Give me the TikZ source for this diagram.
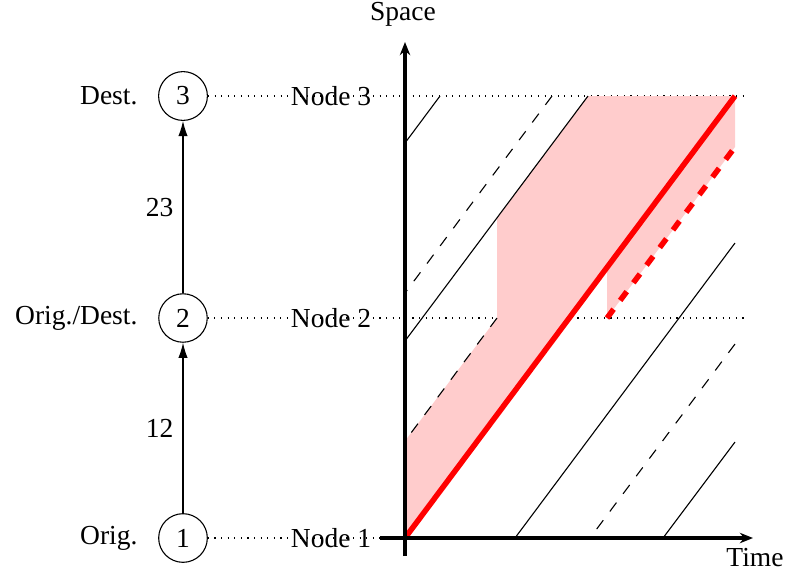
\documentclass[tikz,border=0pt]{standalone}
\usepackage{fontspec}
\setmainfont{Liberation Serif}
\usetikzlibrary{arrows.meta}
\begin{document}
\begin{tikzpicture}[x={(0.3636pt,0pt)},y={(0pt,-0.3636pt)},
  vert/.style={circle,draw,thin,inner sep=3.333pt},
  side/.style={anchor=east,inner sep=0pt},
  axis/.style={line width=1.2pt,-{Stealth[length=4.8pt,width=3.8pt]}},
  link/.style={thin,-{Latex[length=5.5pt,width=3.4pt]}},
  traj/.style={thin},
  trajd/.style={thin,dash pattern=on 4pt off 4pt},
  veh/.style={red,line width=2pt},
  vehd/.style={red,line width=2pt,dash pattern=on 4pt off 4pt},
  guide/.style={dotted}]
\path[use as bounding box] (0,0) rectangle (788,578);

% left graph
\node[vert] (c1) at (183,538) {1};
\node[vert] (c2) at (183,318) {2};
\node[vert] (c3) at (183,96) {3};
\node[side] (l1) at (138,538) {Orig.};
\node[side] (l2) at (138,318) {Orig./Dest.};
\node[side] (l3) at (138,96) {Dest.};
\draw[link] (c1) -- node[left] {12} (c2);
\draw[link] (c2) -- node[left] {23} (c3);

% guide lines
\coordinate (e1) at (748,538);
\coordinate (e2) at (748,318);
\coordinate (e3) at (748,96);
\draw[guide] (c1.east) -- (e1);
\draw[guide] (c2.east) -- (e2);
\draw[guide] (c3.east) -- (e3);
\node (n1) at (331,538) {Node 1};
\node (n2) at (331,318) {Node 2};
\node (n3) at (331,96) {Node 3};

% shaded region
\fill[red!20] (405,538) -- (405,441) -- (497,318) -- (497,218) -- (588,96)
  -- (735,96) -- (735,147) -- (607,318) -- (607,267) -- cycle;

% trajectories
\draw[traj] (405,143) -- (440,96);
\draw[trajd] (552,96) -- (405,293);
\draw[traj] (588,96) -- (405,341);
\draw[trajd] (497,318) -- (405,441);
\draw[traj] (515,538) -- (735,243);
\draw[trajd] (735,344) -- (590,538);
\draw[traj] (663,538) -- (735,442);
\draw[vehd] (607,318) -- (735,147);
\draw[veh] (405,538) -- (735,96);

% axes
\coordinate (xs) at (380,538);
\coordinate (xe) at (753,538);
\coordinate (ys) at (405,556);
\coordinate (ye) at (405,42);
\draw[axis] (xs) -- (xe);
\draw[axis] (ys) -- (ye);
\node (time) at (755,558) {Time};
\node (space) at (403,14) {Space};
\end{tikzpicture}
\end{document}
